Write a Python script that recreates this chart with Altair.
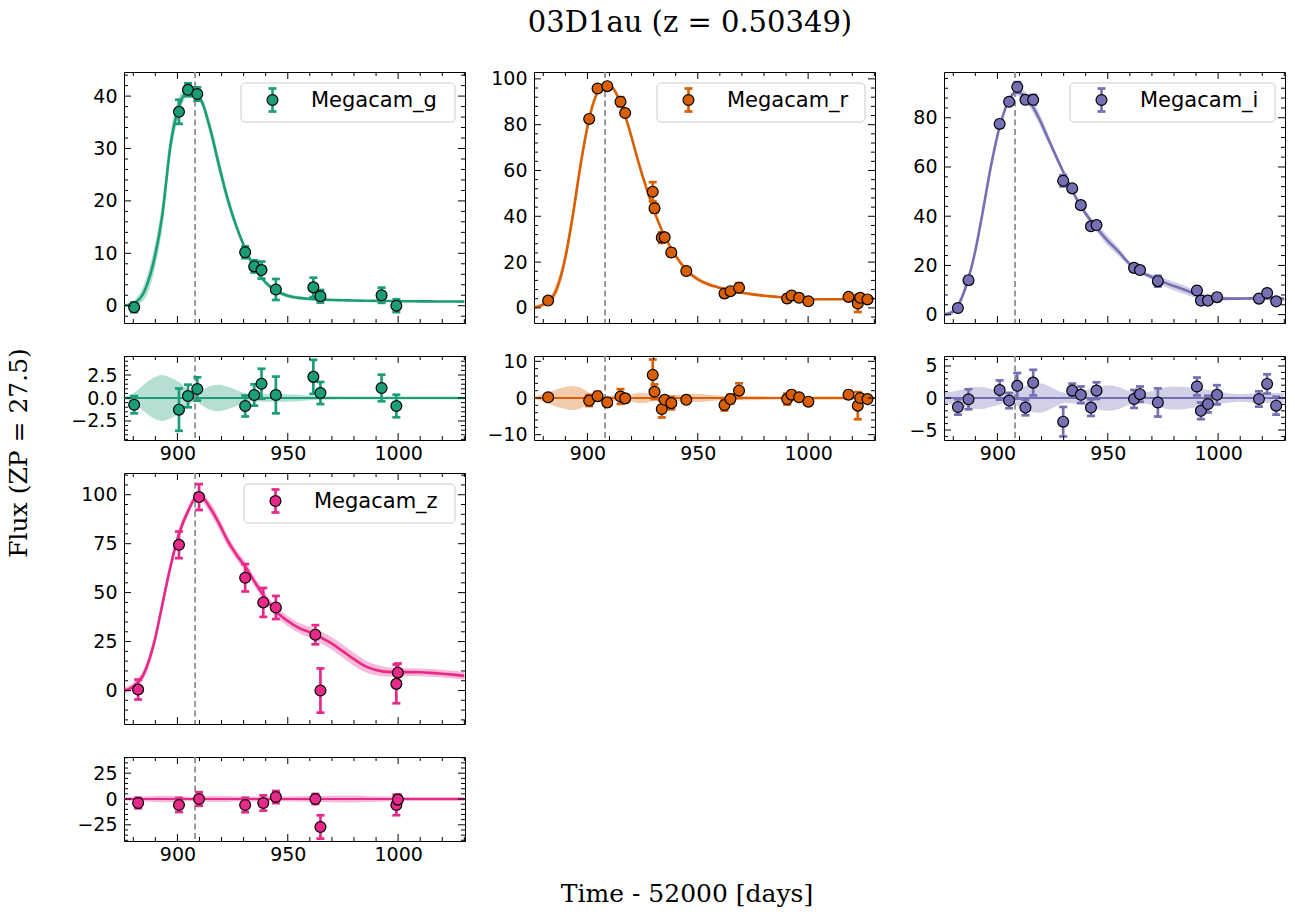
import altair as alt
import numpy as np
import pandas as pd

TITLE = "03D1au (z = 0.50349)"
XLABEL = "Time - 52000 [days]"
YLABEL = "Flux (ZP = 27.5)"
T_PEAK = 908.0

# ---------------- observations ----------------
G_T = [880.4, 900.7, 904.8, 909.0, 930.7, 934.8, 938.1, 944.6, 961.6, 964.8, 992.5, 999.2]
G_F = [-0.3, 37.0, 41.2, 40.4, 10.2, 7.5, 6.8, 3.1, 3.5, 1.8, 2.0, 0.0]
G_E = [0.94, 2.3, 1.23, 1.27, 1.14, 1.16, 1.63, 2.0, 1.85, 1.2, 1.45, 1.23]
G_R = [-0.73, -1.27, 0.22, 0.98, -0.87, 0.33, 1.55, 0.33, 2.3, 0.54, 1.09, -0.87]

R_T = [882.2, 900.8, 904.6, 909.0, 915.0, 917.1, 929.6, 930.4, 933.7, 935.0, 938.0, 944.8,
       962.1, 964.8, 968.7, 990.5, 992.5, 995.9, 1000.1, 1018.3, 1022.5, 1023.6, 1026.9]
R_F = [3.2, 82.5, 95.8, 96.8, 90.0, 85.1, 50.7, 43.5, 30.7, 30.8, 24.2, 16.1,
       6.3, 7.3, 8.8, 4.1, 5.4, 4.4, 2.9, 4.8, 1.9, 4.4, 3.7]
R_E = [0.8, 1.5, 1.2, 1.0, 2.0, 1.0, 4.2, 2.0, 2.3, 1.0, 1.7, 0.8,
       1.5, 1.2, 2.0, 1.5, 1.0, 0.8, 0.8, 1.0, 3.7, 1.0, 0.8]
R_R = [0.2, -0.7, 0.5, -1.2, 0.4, -0.1, 6.3, 1.7, -3.0, -0.5, -1.4, -0.5,
       -1.9, -0.3, 2.0, -0.3, 0.9, 0.2, -1.0, 0.9, -2.1, 0.0, -0.3]

I_T = [882.1, 886.9, 901.0, 905.3, 909.0, 912.7, 916.2, 929.8, 933.9, 937.8, 942.4, 944.9,
       961.9, 964.6, 972.7, 990.4, 992.2, 995.4, 999.5, 1018.5, 1022.2, 1026.3]
I_F = [2.7, 14.0, 77.5, 86.5, 92.5, 87.3, 87.3, 54.4, 51.3, 44.5, 35.9, 36.4,
       19.0, 18.1, 13.6, 9.8, 5.7, 5.7, 7.1, 6.5, 8.8, 5.4]
I_E = [1.2, 1.56, 1.5, 1.2, 2.0, 1.2, 2.0, 2.3, 1.1, 1.3, 1.3, 1.3,
       1.4, 1.2, 2.2, 1.4, 1.3, 1.3, 1.5, 1.2, 1.5, 1.4]
I_R = [-1.4, -0.2, 1.25, -0.4, 1.9, -1.5, 2.4, -3.7, 1.15, 0.5, -1.5, 1.15,
       -0.15, 0.6, -0.7, 1.8, -2.0, -0.95, 0.5, -0.15, 2.2, -1.2]

Z_T = [882.2, 900.7, 909.8, 930.7, 938.9, 944.6, 962.5, 964.8, 999.2, 999.9]
Z_F = [0.5, 74.4, 98.8, 57.6, 45.0, 42.4, 28.5, 0.0, 3.4, 9.1]
Z_E = [5.1, 6.8, 6.6, 7.0, 7.4, 5.9, 4.9, 11.3, 9.9, 4.7]
Z_R = [-3.9, -5.8, 0.0, -5.8, -3.9, 1.9, 0.0, -27.1, -5.8, -0.6]

# ---------------- model curves ----------------
DAYS = [876, 880, 885, 890, 893, 897, 901, 905, 908, 911, 915, 919, 923, 927, 931, 935,
        940, 945, 950, 955, 960, 965, 970, 975, 980, 985, 990, 995, 1000, 1005, 1010,
        1015, 1020, 1025, 1030]
G_MODEL = [0.05, 0.4, 2.7, 9.8, 16.8, 31.0, 38.4, 41.0, 40.4, 39.0, 33.5, 26.5, 20.0, 14.8,
           10.6, 7.2, 4.4, 2.8, 1.9, 1.5, 1.3, 1.2, 1.1, 1.05, 1.0, 0.95, 0.92, 0.9, 0.87,
           0.85, 0.83, 0.82, 0.8, 0.8, 0.78]
G_BAND = [0.15, 0.5, 1.5, 2.3, 2.5, 2.2, 1.7, 0.8, 0.3, 0.8, 1.3, 1.45, 1.2, 0.85, 0.5, 0.35,
          0.4, 0.4, 0.4, 0.35, 0.25, 0.2, 0.18, 0.16, 0.15, 0.15, 0.15, 0.15, 0.15, 0.15,
          0.15, 0.15, 0.15, 0.15, 0.15]
R_MODEL = [0.3, 1.5, 6.0, 22.0, 38.0, 63.0, 83.5, 95.0, 97.5, 96.5, 89.6, 78.0, 64.0, 51.5,
           40.3, 31.3, 22.8, 16.4, 12.5, 10.2, 8.8, 7.6, 6.6, 5.9, 5.3, 4.9, 4.5, 4.2, 3.9,
           3.8, 3.8, 3.8, 3.9, 4.0, 4.0]
R_BAND = [0.3, 1.0, 2.2, 3.0, 3.3, 2.8, 1.4, 0.4, 0.4, 0.7, 0.9, 0.9, 1.4, 1.3, 0.6, 0.5,
          0.8, 1.0, 1.1, 0.9, 0.6, 0.5, 0.6, 0.6, 0.5, 0.4, 0.4, 0.4, 0.4, 0.5, 0.5, 0.5,
          0.4, 0.4, 0.4]
I_MODEL = [0.0, 1.2, 9.5, 26.0, 40.0, 60.0, 76.3, 86.7, 90.2, 89.8, 86.0, 79.5, 71.5, 63.5,
           55.8, 48.5, 41.0, 35.2, 30.0, 25.5, 20.5, 17.3, 15.3, 13.3, 11.6, 10.0, 8.2, 6.8,
           6.6, 6.5, 6.5, 6.6, 6.6, 6.6, 6.4]
I_BAND = [0.9, 1.0, 1.4, 1.7, 1.7, 1.4, 1.0, 0.8, 1.1, 1.6, 2.1, 2.3, 1.9, 1.2, 0.8, 0.9,
          1.2, 1.7, 2.0, 1.7, 1.0, 0.8, 1.1, 1.6, 1.8, 1.7, 1.5, 1.3, 1.0, 0.7, 0.6, 0.7,
          0.8, 0.8, 0.8]
Z_MODEL = [0.0, 2.0, 9.0, 27.0, 43.0, 64.0, 81.0, 92.0, 98.0, 98.5, 93.0, 85.0, 76.0, 69.0,
           62.9, 55.5, 47.0, 40.0, 35.5, 32.0, 29.8, 27.1, 24.0, 20.0, 16.0, 12.5, 10.5, 9.5,
           9.4, 9.4, 9.3, 9.0, 8.6, 8.1, 7.5]
Z_BAND = [1.5, 2.0, 2.5, 3.0, 3.2, 3.2, 2.8, 2.2, 2.0, 2.3, 2.8, 3.0, 2.8, 2.5, 2.5, 2.5,
          2.5, 2.5, 2.5, 2.6, 2.8, 3.0, 3.2, 3.3, 3.3, 3.0, 2.7, 2.4, 2.2, 2.0, 2.0, 2.0,
          2.0, 2.0, 2.0]

# ---------------- layout / style ----------------
W, HM, HR = 341, 251, 84
LEFT, TOP = 123, 71          # absolute position of the first panel
XDOM = [875.8, 1030.3]
X_MAJOR = [900, 950, 1000]
SANS = "DejaVu Sans"
SERIF = "DejaVu Serif"
FS = 19
LEG_FS = 21
MSIZE = 118

PANELS = [
    dict(name="Megacam_g", color="#1b9e77", t=G_T, f=G_F, e=G_E, r=G_R, model=G_MODEL, band=G_BAND,
         ydom=[-3.3, 44.6], ymaj=10, ymin=2, rdom=[-4.57, 4.57], rmaj=2.5, rmin=0.5, rfmt=".1f", legx=117),
    dict(name="Megacam_r", color="#d95f02", t=R_T, f=R_F, e=R_E, r=R_R, model=R_MODEL, band=R_BAND,
         ydom=[-6.6, 103.0], ymaj=20, ymin=4, rdom=[-11.45, 11.45], rmaj=10, rmin=2, rfmt="d", legx=123),
    dict(name="Megacam_i", color="#7570b3", t=I_T, f=I_F, e=I_E, r=I_R, model=I_MODEL, band=I_BAND,
         ydom=[-3.4, 98.6], ymaj=20, ymin=4, rdom=[-6.56, 6.56], rmaj=5, rmin=1, rfmt="d", legx=126),
    dict(name="Megacam_z", color="#e7298a", t=Z_T, f=Z_F, e=Z_E, r=Z_R, model=Z_MODEL, band=Z_BAND,
         ydom=[-17.1, 111.1], ymaj=25, ymin=5, rdom=[-40.7, 40.7], rmaj=25, rmin=5, rfmt="d", legx=120),
]


def multiples(dom, step, exclude=None):
    k0 = int(np.ceil(dom[0] / step - 1e-9))
    k1 = int(np.floor(dom[1] / step + 1e-9))
    vals = [round(k * step, 6) for k in range(k0, k1 + 1)]
    if exclude:
        vals = [v for v in vals if abs(v / exclude - round(v / exclude)) > 1e-6]
    return vals


X_MINOR = [v for v in multiples(XDOM, 10) if v not in X_MAJOR]


def panel(p, kind, figure_text=False):
    main = kind == "main"
    H = HM if main else HR
    c = p["color"]
    ydom = p["ydom"] if main else p["rdom"]
    ymaj = p["ymaj"] if main else p["rmaj"]
    ymin = p["ymin"] if main else p["rmin"]
    fmt = "d" if main else p["rfmt"]
    yvals = multiples(ydom, ymaj)

    xs = alt.Scale(domain=XDOM, nice=False, zero=False)
    ys = alt.Scale(domain=ydom, nice=False, zero=False)
    xax = alt.Axis(values=X_MAJOR, labels=not main, ticks=False, domain=False, grid=False,
                   title=None, labelFontSize=FS, labelFont=SANS, labelColor="black",
                   labelPadding=4, format="d")
    yax = alt.Axis(values=yvals, ticks=False, domain=False, grid=False, title=None,
                   labelFontSize=FS, labelFont=SANS, labelColor="black", labelPadding=7,
                   format=fmt)

    def X(f):
        return alt.X(f, type="quantitative", scale=xs, axis=xax)

    def Y(f):
        return alt.Y(f, type="quantitative", scale=ys, axis=yax)

    m = np.array(p["model"]) if main else np.zeros(len(DAYS))
    bw = np.array(p["band"])
    curve = pd.DataFrame({"t": DAYS, "m": m, "lo": m - bw, "hi": m + bw})
    val = np.array(p["f"] if main else p["r"])
    err = np.array(p["e"])
    pts = pd.DataFrame({"t": p["t"], "v": val, "lo": val - err, "hi": val + err})

    layers = [
        alt.Chart(curve).mark_area(color=c, opacity=0.33, clip=True, interpolate="monotone")
        .encode(x=X("t"), y=Y("lo"), y2="hi"),
    ]
    if main:
        layers.append(alt.Chart(curve).mark_line(color=c, strokeWidth=2.6, clip=True,
                                                 interpolate="monotone")
                      .encode(x=X("t"), y=Y("m")))
    else:
        layers.append(alt.Chart(pd.DataFrame({"z": [0.0]})).mark_rule(color=c, strokeWidth=2.2)
                      .encode(y=Y("z")))
    layers.append(alt.Chart(pd.DataFrame({"tp": [T_PEAK]}))
                  .mark_rule(color="#8a8a8a", strokeWidth=1.7, strokeDash=[6, 3.5])
                  .encode(x=X("tp")))
    # error bars with caps
    layers.append(alt.Chart(pts).mark_rule(color=c, strokeWidth=2.7, clip=True)
                  .encode(x=X("t"), y=Y("lo"), y2="hi"))
    for end in ("lo", "hi"):
        layers.append(alt.Chart(pts).mark_rule(color=c, strokeWidth=2.7, xOffset=-4, x2Offset=4,
                                               clip=True)
                      .encode(x=X("t"), x2="t", y=Y(end)))
    layers.append(alt.Chart(pts).mark_circle(size=MSIZE, fill=c, stroke="black",
                                             strokeWidth=1.2, opacity=1, clip=True)
                  .encode(x=X("t"), y=Y("v")))

    # inward ticks on all four sides
    xmaj = pd.DataFrame({"v": X_MAJOR})
    xmin = pd.DataFrame({"v": X_MINOR})
    ymajd = pd.DataFrame({"v": yvals})
    ymind = pd.DataFrame({"v": multiples(ydom, ymin, exclude=ymaj)})
    for d, L in ((xmaj, 7), (xmin, 4)):
        layers.append(alt.Chart(d).mark_rule(color="black", strokeWidth=1)
                      .encode(x=X("v"), y=alt.value(H), y2=alt.value(H - L)))
        layers.append(alt.Chart(d).mark_rule(color="black", strokeWidth=1)
                      .encode(x=X("v"), y=alt.value(0), y2=alt.value(L)))
    for d, L in ((ymajd, 7), (ymind, 4)):
        layers.append(alt.Chart(d).mark_rule(color="black", strokeWidth=1)
                      .encode(y=Y("v"), x=alt.value(0), x2=alt.value(L)))
        layers.append(alt.Chart(d).mark_rule(color="black", strokeWidth=1)
                      .encode(y=Y("v"), x=alt.value(W - L), x2=alt.value(W)))

    if main:
        lx = p["legx"]
        mx = lx + 31.5
        leg = pd.DataFrame({"label": [p["name"]]})
        layers.append(alt.Chart(leg).mark_rect(fill="white", fillOpacity=0.8, stroke="#cccccc",
                                               strokeWidth=1, cornerRadius=4)
                      .encode(x=alt.value(lx), x2=alt.value(331), y=alt.value(11),
                              y2=alt.value(50)))
        layers.append(alt.Chart(leg).mark_rule(color=c, strokeWidth=2.7)
                      .encode(x=alt.value(mx), y=alt.value(16.5), y2=alt.value(39.5)))
        for yy in (16.5, 39.5):
            layers.append(alt.Chart(leg).mark_rule(color=c, strokeWidth=2.7)
                          .encode(x=alt.value(mx - 4), x2=alt.value(mx + 4), y=alt.value(yy)))
        layers.append(alt.Chart(leg).mark_circle(size=MSIZE, fill=c, stroke="black",
                                                 strokeWidth=1.2, opacity=1)
                      .encode(x=alt.value(mx), y=alt.value(28)))
        layers.append(alt.Chart(leg).mark_text(align="left", baseline="middle", font=SANS,
                                               fontSize=LEG_FS, color="black")
                      .encode(x=alt.value(lx + 70), y=alt.value(29), text="label:N"))

    if figure_text:
        # figure-level texts, positioned relative to this (top-left) panel
        lab = pd.DataFrame({"title": [TITLE], "xl": [XLABEL], "yl": [YLABEL]})
        layers.append(alt.Chart(lab).mark_rect(opacity=0)
                      .encode(x=alt.value(-LEFT), x2=alt.value(-LEFT + 1),
                              y=alt.value(-TOP), y2=alt.value(-TOP + 1)))
        layers.append(alt.Chart(lab).mark_text(font=SERIF, fontSize=29, align="center",
                                               baseline="middle", color="black")
                      .encode(x=alt.value(689 - LEFT), y=alt.value(22 - TOP), text="title:N"))
        layers.append(alt.Chart(lab).mark_text(font=SERIF, fontSize=25, align="center",
                                               baseline="middle", color="black")
                      .encode(x=alt.value(686 - LEFT), y=alt.value(893 - TOP), text="xl:N"))
        layers.append(alt.Chart(lab).mark_text(font=SERIF, fontSize=25, align="center",
                                               baseline="middle", angle=270, color="black")
                      .encode(x=alt.value(18 - LEFT), y=alt.value(452 - TOP), text="yl:N"))

    return alt.layer(*layers).properties(width=W, height=H)


def blank():
    return (alt.Chart(pd.DataFrame({"a": [0]})).mark_point(opacity=0)
            .encode(x=alt.value(0), y=alt.value(0))
            .properties(width=1, height=1, view=alt.ViewBackground(strokeOpacity=0)))


cells = [
    panel(PANELS[0], "main", figure_text=True), panel(PANELS[1], "main"), panel(PANELS[2], "main"),
    panel(PANELS[0], "resid"), panel(PANELS[1], "resid"), panel(PANELS[2], "resid"),
    panel(PANELS[3], "main"), blank(), blank(),
    panel(PANELS[3], "resid"),
]

chart = (alt.concat(*cells, columns=3, spacing={"row": 33, "column": 69},
                    bounds="flush", align="each")
         .properties(padding=0, background="white")
         .configure_view(stroke="black", strokeWidth=1))

chart.save("out.html", embed_options={"renderer": "svg", "actions": False})
